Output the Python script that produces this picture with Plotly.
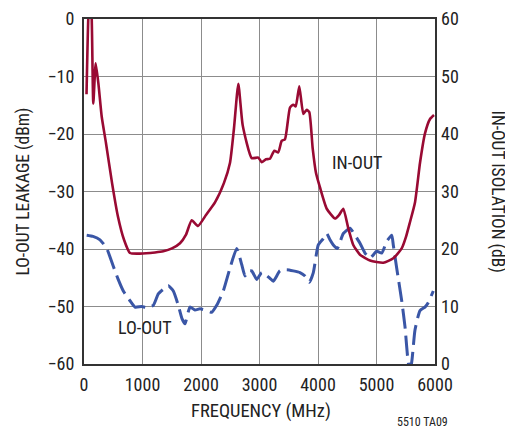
import plotly.graph_objects as go

# IN-OUT isolation (dB, right axis)
freq_in_out = [43, 73, 103, 132, 159, 200, 248, 303, 376, 479, 581, 684, 786, 957, 1214,
               1356, 1504, 1641, 1744, 1841, 1949, 2085, 2239, 2393, 2496, 2564, 2638, 2713,
               2867, 2979, 3038, 3111, 3179, 3253, 3321, 3379, 3436, 3521, 3578, 3619, 3680,
               3749, 3807, 3851, 3909, 3966, 4034, 4149, 4291, 4359, 4433, 4518, 4603, 4718,
               4889, 5116, 5287, 5431, 5504, 5573, 5658, 5744, 5829, 5915, 5983]
iso_in_out = [46.9, 60.0, 64.9, 60.0, 45.3, 52.3, 48.6, 43.0, 38.4, 31.5, 25.6, 21.6, 19.3, 19.2, 19.4,
              19.6, 20.1, 21.0, 22.5, 25.0, 24.0, 25.9, 28.1, 31.5, 35.0, 41.0, 48.75, 41.5,
              35.8, 35.9, 35.1, 35.6, 35.7, 37.1, 36.8, 38.8, 39.1, 44.6, 45.1, 44.8, 48.3,
              43.5, 44.2, 43.8, 37.5, 33.2, 30.7, 27.0, 25.3, 25.9, 27.0, 23.6, 20.7, 19.0,
              18.0, 17.6, 18.4, 20.1, 22.1, 24.7, 28.1, 35.0, 40.1, 42.6, 43.3]

# LO-OUT leakage (dBm, left axis)
freq_lo_out = [46, 154, 274, 388, 501, 581, 672, 786, 872, 986, 1072, 1185, 1270, 1356, 1441,
               1527, 1612, 1675, 1726, 1812, 1897, 1983, 2097, 2183, 2268, 2381, 2496, 2610,
               2696, 2752, 2809, 2867, 2952, 3038, 3111, 3179, 3236, 3350, 3465, 3578, 3692,
               3778, 3851, 3920, 4005, 4091, 4149, 4205, 4262, 4330, 4433, 4547, 4632, 4718,
               4803, 4889, 5003, 5089, 5174, 5260, 5287, 5345, 5431, 5487, 5544, 5573, 5600,
               5658, 5744, 5829, 5886, 5971]
leak_lo_out = [-37.6, -37.8, -38.4, -39.9, -43.0, -45.2, -47.3, -49.0, -50.1, -50.0, -50.2, -49.8,
               -47.8, -47.0, -46.4, -47.3, -49.8, -52.1, -53.0, -50.1, -50.6, -50.4, -50.7, -51.0,
               -49.8, -47.3, -43.3, -39.9, -42.7, -44.7, -43.8, -43.8, -45.3, -44.1, -44.5, -45.1,
               -45.6, -43.8, -43.6, -43.8, -44.1, -44.7, -45.8, -44.1, -39.3, -38.2, -37.3, -38.4,
               -39.3, -39.9, -37.3, -36.4, -37.6, -39.0, -40.7, -41.6, -40.4, -40.7, -38.7, -37.6,
               -39.3, -43.3, -49.0, -53.5, -59.8, -60.5, -59.8, -54.1, -50.7, -50.1, -49.3, -47.3]

x_ticks = [0, 1000, 2000, 3000, 4000, 5000, 6000]

font_family = "Liberation Sans Narrow, Roboto Condensed, Arial Narrow, Roboto, sans-serif"
red = '#990a33'
blue = '#3a56a6'
txt = '#222222'

fig = go.Figure()

fig.add_trace(go.Scatter(
    x=freq_lo_out, y=leak_lo_out, mode='lines',
    line=dict(color=blue, width=3, dash='20px,7px', shape='spline', smoothing=0.5),
    yaxis='y'
))
fig.add_trace(go.Scatter(
    x=freq_in_out, y=iso_in_out, mode='lines',
    line=dict(color=red, width=2.6, shape='spline', smoothing=0.5),
    yaxis='y2'
))

axis_common = dict(
    showline=True, linecolor='#333333', linewidth=2, mirror=True,
    showgrid=True, gridcolor='#8c8c8c', gridwidth=1, zeroline=False,
    ticks='', tickfont=dict(size=18, color=txt), automargin=False,
    ticklabeloverflow='allow',
)

# the page body keeps its default 8px margin, so the figure is 8px smaller
fig.update_layout(
    width=505, height=424,
    margin=dict(l=76, r=78, t=11, b=67.5, autoexpand=False),
    paper_bgcolor='white', plot_bgcolor='white',
    font=dict(family=font_family, color=txt),
    showlegend=False,
    xaxis=dict(range=[0, 6000], tickvals=x_ticks, ticklabelstandoff=3, **axis_common),
    yaxis=dict(range=[-60, 0], dtick=10, ticklabelstandoff=4, **axis_common),
    yaxis2=dict(range=[0, 60], dtick=10, overlaying='y', side='right',
                showgrid=False, zeroline=False, showline=False, ticks='',
                ticklabelstandoff=5, automargin=False, ticklabeloverflow='allow',
                tickfont=dict(size=18, color=txt)),
    annotations=[
        dict(text='LO-OUT LEAKAGE (dBm)', xref='paper', yref='paper', x=0, y=0.5,
             xanchor='center', yanchor='middle', xshift=-61, textangle=-90,
             showarrow=False, font=dict(size=17.5)),
        dict(text='IN-OUT ISOLATION (dB)', xref='paper', yref='paper', x=1, y=0.5,
             xanchor='center', yanchor='middle', xshift=62, textangle=90,
             showarrow=False, font=dict(size=17.5)),
        dict(text='FREQUENCY (MHz)', xref='paper', yref='paper', x=0.504, y=0,
             xanchor='center', yanchor='middle', yshift=-47,
             showarrow=False, font=dict(size=18.5)),
        dict(text='5510 TA09', xref='paper', yref='paper', x=1, y=0,
             xanchor='center', yanchor='middle', xshift=-12.5, yshift=-58,
             showarrow=False, font=dict(size=12)),
        dict(text='IN-OUT', x=4667, y=-24.9, xref='x', yref='y',
             xanchor='center', yanchor='middle', showarrow=False, font=dict(size=18)),
        dict(text='LO-OUT', x=1043, y=-53.6, xref='x', yref='y',
             xanchor='center', yanchor='middle', showarrow=False, font=dict(size=18)),
    ],
)

fig.write_html("out.html")
